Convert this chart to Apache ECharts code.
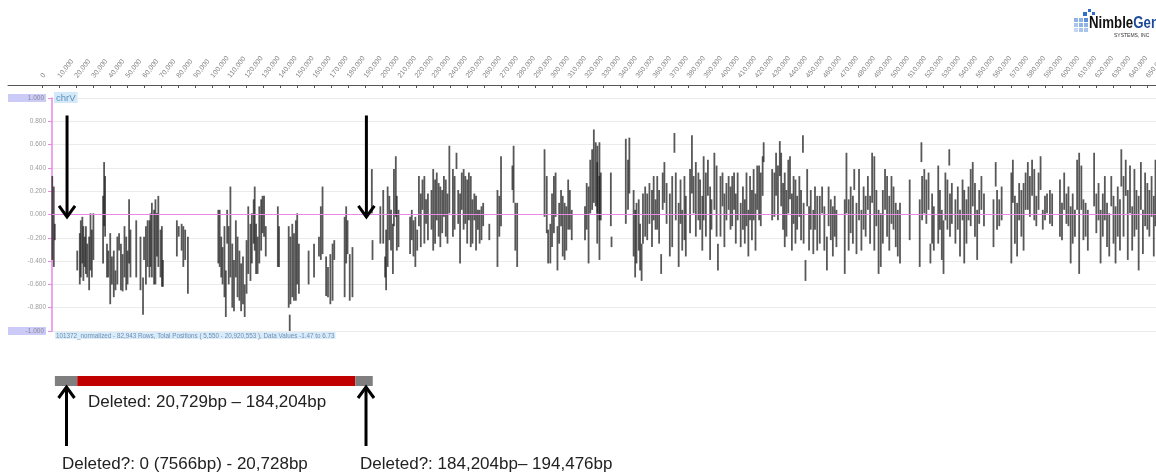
<!DOCTYPE html>
<html>
<head>
<meta charset="utf-8">
<script src="https://cdn.jsdelivr.net/npm/echarts@6/dist/echarts.min.js"></script>
<style>html,body{margin:0;padding:0;background:#fff}#c{width:1156px;height:475px}</style>
</head>
<body>
<div id="c"></div>
<script>
// ---- data (positions in kb, values: [pos_kb, high, low]) ----
const probesLeft = [
[5.7,0.33,-0.39],[6.6,0.24,-0.45],[7.2,-0.08,-0.22],
[20.4,-0.31,-0.48],[21.9,-0.16,-0.60],[22.5,-0.05,-0.54],[23.4,-0.02,-0.42],[24.0,-0.10,-0.57],[24.8,-0.19,-0.45],
[25.5,-0.10,-0.51],[26.3,-0.25,-0.54],[27.4,-0.19,-0.65],[28.2,0.01,-0.48],[29.0,-0.13,-0.54],[29.9,0.01,-0.39],
[35.6,0.16,-0.42],[36.2,0.45,-0.10],[36.8,0.33,-0.19],[37.9,-0.25,-0.54],[38.7,-0.31,-0.54],[39.8,-0.16,-0.77],
[40.8,-0.36,-0.60],[41.9,-0.31,-0.71],[42.9,-0.48,-0.65],[44.0,-0.19,-0.60],[45.0,-0.16,-0.31],[46.1,-0.25,-0.65],
[47.1,-0.34,-0.66],[48.2,-0.10,-0.54],[49.2,-0.19,-0.65],[50.0,-0.31,-0.60],[50.9,0.13,-0.42],[51.7,-0.13,-0.54],
[55.1,-0.05,-0.54],[57.6,-0.19,-0.65],[59.1,-0.54,-0.86],[59.7,-0.19,-0.39],[60.8,-0.10,-0.60],[61.8,-0.05,-0.45],
[62.9,-0.05,-0.54],[63.5,0.01,-0.45],[64.3,0.10,-0.54],[65.6,0.04,-0.60],[66.4,0.13,-0.60],[67.3,0.01,-0.36],
[68.1,0.16,-0.45],[69.4,-0.13,-0.54],[70.2,-0.10,-0.62],[70.8,-0.39,-0.62],
[79.0,-0.05,-0.36],[80.1,-0.10,-0.19],[81.8,-0.08,-0.31],[82.8,-0.10,-0.45],[83.9,-0.13,-0.39],[85.5,-0.19,-0.68],
[103.4,0.04,-0.42],[104.2,0.04,-0.45],[105.1,-0.19,-0.54],[105.9,-0.28,-0.60],[107.0,-0.10,-0.71],[107.8,-0.48,-0.88],
[108.6,0.04,-0.25],[109.5,-0.10,-0.60],[110.5,0.24,-0.54],[111.6,-0.25,-0.80],[112.6,-0.39,-0.83],[113.7,-0.05,-0.54],
[114.7,-0.19,-0.71],[115.8,-0.31,-0.74],[116.8,-0.42,-0.83],[117.9,-0.36,-0.77],[118.9,-0.60,-0.88],[120.0,-0.22,-0.68],
[121.0,0.07,-0.51],[122.3,-0.08,-0.57],[123.1,0.01,-0.42],[124.2,0.13,-0.25],[124.8,0.24,-0.31],[125.6,-0.08,-0.51],
[126.5,-0.19,-0.51],[127.5,0.07,-0.42],[128.6,0.13,-0.31],[129.4,0.16,-0.16],[130.3,0.16,-0.19],[131.3,-0.10,-0.36],
[138.4,0.07,-0.45],[139.1,-0.10,-0.45],
[144.8,-0.10,-0.80],[145.4,-0.86,-1.00],[145.8,-0.19,-0.77],[146.9,-0.08,-0.71],[147.9,-0.16,-0.74],[149.0,-0.05,-0.74],
[149.8,0.01,-0.60],[150.8,-0.25,-0.68],[156.5,-0.31,-0.60],[159.7,-0.25,-0.54],[162.6,-0.19,-0.36],[163.7,0.07,-0.39],
[164.7,0.24,-0.34],[166.8,-0.36,-0.70],[167.9,-0.45,-0.71],[169.3,-0.34,-0.77],[170.6,-0.25,-0.74],[171.6,-0.22,-0.39],
[177.7,-0.02,-0.71],[178.6,0.07,-0.42],[179.4,-0.05,-0.34],[180.7,-0.34,-0.74],[182.3,-0.28,-0.71]
];
const probesMid = [
[193.7,0.39,0.01],[194.1,-0.22,-0.39],
[198.7,0.07,-0.25],[200.4,0.21,-0.25],[201.5,-0.36,-0.54],[202.1,-0.13,-0.65],[203.0,0.24,-0.45],[204.0,0.16,-0.22],
[205.0,0.04,-0.31],[206.1,-0.08,-0.51],[206.7,0.39,-0.10],[207.8,0.50,-0.02],[208.4,0.16,-0.31],[209.4,0.04,-0.28],
[216.2,-0.02,-0.34],[217.2,0.04,-0.22],[218.2,-0.05,-0.36],[219.3,-0.02,-0.45],[220.4,-0.13,-0.31],[221.4,0.33,-0.10],
[222.5,0.18,-0.28],[223.5,0.30,0.04],[224.6,0.33,-0.25],[225.6,0.13,-0.08],[226.7,0.18,-0.22],[228.8,0.21,-0.13],
[229.8,0.39,-0.31],[230.9,0.30,-0.25],[231.9,0.36,-0.05],[233.0,0.27,-0.19],[234.0,0.24,-0.28],[235.1,0.21,-0.16],
[236.1,0.33,-0.02],[237.2,0.30,-0.19],[238.2,0.18,-0.25],[239.3,0.59,0.01],[241.4,0.39,-0.19],[242.4,0.33,-0.13],
[243.5,0.53,0.39],[244.5,0.21,-0.08],[245.6,0.18,-0.42],[246.6,0.36,0.04],[247.7,0.39,-0.13],[248.7,0.33,-0.08],
[249.8,0.30,-0.25],[250.8,0.36,-0.05],[251.9,0.33,-0.28],[252.9,0.13,-0.25],[254.0,0.18,-0.05],[255.0,0.16,-0.31],
[256.1,0.04,-0.13],[257.1,0.04,-0.25],[258.2,0.07,-0.22],[259.2,0.10,-0.10],[262.8,-0.08,-0.22],
[267.6,0.21,-0.45],[268.7,0.16,-0.19],[269.7,0.50,-0.10],[276.4,0.42,0.21],[277.1,0.59,0.10],[278.1,0.10,-0.31],[279.2,0.10,-0.45],
[295.3,0.56,-0.02],[296.6,0.33,-0.16],[297.4,-0.13,-0.42],[298.7,-0.08,-0.42],[299.7,0.18,-0.28],[300.8,0.33,-0.16],
[301.8,0.36,-0.02],[302.9,-0.10,-0.48],[303.9,0.10,-0.25],[305.0,0.21,-0.10],[306.0,0.16,-0.36],[307.1,0.10,-0.39],
[308.1,0.07,-0.31],[309.2,0.30,-0.13],[310.2,0.21,-0.13],[311.3,0.04,-0.22],
[319.1,0.07,-0.22],[320.1,0.27,-0.13],[321.2,0.24,-0.42],[322.2,0.47,0.01],[323.3,0.56,0.04],[324.3,0.73,0.10],
[325.4,0.62,0.07],[326.3,0.45,-0.25],[326.4,0.59,0.01],[327.5,0.33,-0.05],[327.6,0.62,-0.39],[328.4,0.36,-0.05],
[334.3,0.36,-0.10],[334.7,-0.19,-0.28],[343.1,0.65,-0.08],[344.4,0.47,0.04],[345.2,0.66,0.18],
[347.7,0.21,-0.36],[348.6,0.04,-0.54],[349.4,0.10,-0.42],[350.7,0.13,-0.31],[351.5,-0.08,-0.48],[352.4,-0.25,-0.57],
[353.2,0.18,-0.25],[354.5,0.24,-0.19],[355.7,0.18,-0.22],[357.0,0.27,-0.08],[358.5,0.21,-0.28],[359.5,0.33,-0.05],
[360.6,0.13,-0.13],[361.6,0.33,-0.13],[362.7,0.21,-0.25],[363.9,-0.34,-0.51],[364.8,0.36,0.04],[365.8,0.45,0.10],
[367.1,0.27,-0.08],[369.0,0.18,-0.36],[370.4,0.33,-0.28],[371.7,0.70,0.53],[372.5,0.36,-0.05],[374.2,0.10,-0.45],
[375.3,0.30,-0.08],[376.3,0.04,-0.31],[377.6,0.33,-0.22],[378.4,0.16,-0.36],[380.9,0.39,-0.16],[382.0,0.68,0.18],
[383.0,0.33,0.01],[384.3,0.45,-0.19],[385.8,0.36,-0.05],[386.8,0.30,-0.13],[388.1,0.16,-0.31],[388.9,0.50,-0.05],
[390.2,0.36,-0.19],[391.4,0.47,0.16],[392.7,0.24,-0.39],[393.5,0.13,-0.13],[395.2,0.53,0.04],[396.5,0.42,-0.19],
[397.3,-0.25,-0.48],[398.8,0.33,-0.19],[400.0,0.36,0.07],[401.1,0.18,-0.28],[402.3,0.27,-0.05],[403.6,0.33,0.04],
[404.7,0.24,-0.13],[405.7,0.33,-0.10],[406.8,0.36,0.04],[407.8,0.18,-0.25],[408.9,0.36,-0.05],[410.7,0.10,-0.28],
[412.0,0.24,-0.13],[413.1,0.13,-0.25],[414.1,0.36,-0.10],[415.2,0.04,-0.36],[416.2,0.33,-0.05],[417.3,0.21,-0.22],
[418.3,0.39,-0.05],[419.4,0.18,-0.31],[420.4,0.42,0.04],[421.5,0.42,-0.05],[422.5,0.36,-0.10],[423.6,0.50,0.16],
[424.2,0.62,0.45],[429.2,0.39,-0.05],[430.5,0.36,-0.02],[431.5,0.53,0.16],[432.6,0.42,-0.05],[433.7,0.63,0.33],
[434.5,0.53,0.07],[435.6,0.27,-0.13],[436.6,0.36,-0.28],[437.6,0.21,-0.19],[438.7,0.47,0.01],[439.7,0.50,0.13],
[440.8,0.18,-0.31],[441.8,0.33,-0.08],[442.9,0.30,-0.25],[443.9,0.16,-0.13],[445.2,0.33,-0.02],[446.2,0.21,-0.22],
[447.3,0.68,0.53],[447.7,0.10,-0.25],[448.8,-0.39,-0.57],[449.8,0.39,0.07],[450.9,0.07,-0.31],[451.9,0.21,-0.13]
];
const probesRight = [
[453.4,0.04,-0.34],[454.4,0.24,-0.13],[455.7,0.16,-0.31],[457.2,0.16,-0.25],[458.6,0.24,0.01],[459.9,0.07,-0.31],
[461.4,-0.19,-0.48],[462.4,0.24,-0.10],[463.7,0.13,-0.22],[464.9,0.07,-0.36],[466.0,0.16,-0.19],[467.0,0.04,-0.28],
[471.9,0.13,-0.51],[472.9,0.53,0.01],[474.2,0.13,-0.31],[475.4,0.24,-0.16],[476.7,0.16,-0.25],[477.5,0.39,0.21],
[478.8,0.10,-0.34],[480.3,0.39,-0.05],[481.7,0.04,-0.31],[483.0,0.24,-0.13],[484.2,0.16,-0.19],[485.5,0.33,0.04],
[486.8,0.16,-0.25],[488.0,0.53,0.10],[489.3,0.50,-0.31],[490.5,0.21,-0.10],[491.8,0.04,-0.51],[493.1,0.01,-0.45],
[494.3,0.21,-0.25],[495.6,0.39,0.04],[496.8,0.33,-0.19],[498.1,0.16,-0.31],[499.4,0.33,-0.08],[500.6,0.24,-0.13],
[501.9,0.10,-0.28],[503.1,0.04,-0.36],[504.4,0.10,-0.42],[510.1,0.30,-0.22],
[516.0,0.13,-0.45],[517.0,0.62,0.45],[517.4,0.33,-0.05],[518.7,0.39,0.01],[519.9,0.30,-0.08],[521.2,0.36,0.04],
[522.3,-0.25,-0.42],[523.3,0.18,-0.25],[524.3,0.07,-0.31],[526.9,0.42,-0.25],[527.9,0.21,-0.13],[529.0,0.04,-0.39],
[530.0,-0.05,-0.51],[531.1,0.36,-0.05],[532.3,0.30,-0.13],[533.4,0.56,0.42],[533.8,0.18,-0.19],[534.9,0.27,-0.08],
[537.0,0.13,-0.25],[538.4,0.24,-0.13],[539.7,0.04,-0.36],[541.2,0.30,-0.05],[542.2,0.21,-0.42],[543.5,0.13,-0.25],
[544.7,0.24,-0.05],[546.0,0.39,-0.10],[547.2,0.45,0.07],[548.5,0.27,-0.19],[549.8,0.04,-0.39],[551.0,0.21,-0.08],
[552.3,0.33,0.04],[553.8,0.18,-0.10],[559.4,0.13,-0.28],[560.7,0.45,0.24],[561.5,0.21,-0.13],[562.8,0.13,-0.10],
[564.2,0.24,-0.05],[569.9,0.36,-0.42],[570.8,0.47,0.10],[572.0,0.16,-0.25],[573.3,0.10,-0.36],[574.5,0.27,-0.05],
[575.8,0.21,-0.19],[577.1,0.27,-0.31],[578.3,0.36,0.04],[579.6,0.45,0.04],[580.8,0.33,-0.02],[582.1,0.47,0.16],
[583.4,0.39,-0.05],[584.6,0.16,-0.10],[585.9,0.36,0.04],[587.1,0.50,0.21],[588.4,0.04,-0.13],[589.7,0.16,-0.05],
[590.9,0.18,0.01],[592.6,0.21,-0.08],[593.9,0.18,-0.10],[598.5,0.30,-0.19],[599.7,0.10,-0.22],[601.0,0.36,0.04],
[602.3,0.18,-0.08],[603.5,0.24,-0.10],[604.8,0.07,-0.42],[606.0,0.18,-0.25],[607.3,0.04,-0.19],[608.6,0.47,0.04],
[609.8,0.53,-0.51],[611.1,0.42,0.04],[612.3,0.13,-0.22],[613.6,0.10,-0.19],[614.9,0.04,-0.31],[618.6,0.53,0.07],
[619.9,0.18,-0.16],[621.2,0.27,-0.05],[622.4,0.04,-0.42],[623.7,0.18,-0.19],[624.9,0.33,-0.05],[626.2,0.10,-0.28],
[627.5,0.01,-0.36],[628.7,0.33,0.07],[630.0,0.16,-0.25],[631.2,0.07,-0.42],[632.5,0.24,-0.19],[633.8,0.13,-0.31],
[634.6,0.56,0.24],[635.9,0.33,-0.19],[637.2,0.47,0.16],[638.4,0.21,-0.39],[639.7,0.42,0.01],[641.0,0.07,-0.31],
[642.3,0.39,-0.19],[643.5,0.21,-0.13],[644.8,0.16,-0.48],[646.1,0.45,0.04],[647.3,0.04,-0.34],[648.6,0.36,-0.10],
[649.9,0.27,-0.13],[651.1,0.21,-0.19],[652.4,0.33,-0.02],[653.7,0.16,-0.36],[654.7,0.47,-0.10]
];
// top axis tick labels (bp)
const topTickValues = [];
for (let v = 0; v <= 650000; v += 10000) topTickValues.push(v);
// y axis
const yMin = -1, yMax = 1, yStep = 0.2;
// arrows pointing to breakpoints (bp, value from, value to)
const topArrows = [[14400, 0.85, -0.02], [190500, 0.85, -0.02]];
// deletion bar segments: [start bp, end bp, kind]
const deletionSegments = [[7566, 20728, 'maybe'], [20729, 184204, 'deleted'], [184204, 194476, 'maybe']];
const bottomArrows = [[14400, 7.0, 1.1], [190500, 7.0, 1.1]];
const notes = [
  [27000, 2.6, 'Deleted: 20,729bp \u2013 184,204bp'],
  [11800, 8.8, 'Deleted?: 0 (7566bp) - 20,728bp'],
  [187000, 8.8, 'Deleted?: 184,204bp\u2013 194,476bp']
];
const chromLabel = 'chrV';
const footerText = '101372_normalized - 82,943 Rows, Total Positions ( 5,550 - 20,920,553 ), Data Values -1.47 to 6.73';

// ---- chart ----
const probeData = probesLeft.concat(probesMid, probesRight).map(p => [p[0] * 1000, p[2], p[1]]);
const chart = echarts.init(document.getElementById('c'), null, {renderer: 'canvas'});
const MAGENTA = '#e68ae6';

function arrowItem(params, api) {
  const a = api.coord([api.value(0), api.value(1)]);
  const b = api.coord([api.value(0), api.value(2)]);
  const dir = b[1] > a[1] ? 1 : -1;
  return {
    type: 'group',
    children: [
      {type: 'line', shape: {x1: a[0], y1: a[1], x2: b[0], y2: b[1]}, style: {stroke: '#000', lineWidth: 3}},
      {type: 'polyline', shape: {points: [[b[0] - 8, b[1] - dir * 11], [b[0], b[1]], [b[0] + 8, b[1] - dir * 11]]},
       style: {stroke: '#000', lineWidth: 3, fill: null}}
    ]
  };
}

const option = {
  animation: false,
  backgroundColor: '#ffffff',
  title: [
    {text: chromLabel, left: 54, top: 92, padding: [1, 2, 0, 2], backgroundColor: '#d3e9f8',
     textStyle: {fontSize: 9.5, fontWeight: 'normal', color: '#5d8fbf', fontFamily: 'Liberation Sans'}},
    {text: footerText, left: 55, top: 332, padding: [1, 1, 0, 1], backgroundColor: '#daecf9',
     textStyle: {fontSize: 6.3, fontWeight: 'normal', color: '#6b8fb5', fontFamily: 'Liberation Sans'}}
  ],
  grid: [
    {left: 8, right: 0, top: 84, height: 1, outerBoundsMode: 'none', containLabel: false},
    {left: 52, right: 0, top: 98, height: 233, outerBoundsMode: 'none', containLabel: false},
    {left: 8, right: 0, top: 376, height: 99, outerBoundsMode: 'none', containLabel: false}
  ],
  xAxis: [
    {gridIndex: 0, type: 'value', position: 'top', min: -20000, max: 655000, interval: 10000,
     axisLine: {lineStyle: {color: '#555', width: 1}},
     axisTick: {customValues: topTickValues, inside: true, length: 3, lineStyle: {color: '#555'}},
     axisLabel: {customValues: topTickValues, rotate: 52, fontSize: 7, color: '#808080', margin: 7,
                 fontFamily: 'Liberation Sans', formatter: v => v.toLocaleString('en-US')},
     splitLine: {show: false}},
    {gridIndex: 1, type: 'value', min: 5550, max: 655000, show: false},
    {gridIndex: 2, type: 'value', min: -20000, max: 655000, show: false}
  ],
  yAxis: [
    {gridIndex: 0, type: 'value', show: false},
    {gridIndex: 1, type: 'value', min: yMin, max: yMax, interval: yStep,
     axisLine: {show: true, lineStyle: {color: MAGENTA, width: 1.5}},
     axisTick: {show: true, length: 4, lineStyle: {color: MAGENTA}},
     axisLabel: {fontSize: 6.5, color: '#9a9a9a', margin: 6, fontFamily: 'Liberation Sans',
       formatter: v => {
         const s = (Math.abs(v) < 1e-9 ? 0 : v).toFixed(3);
         return Math.abs(Math.abs(v) - 1) < 1e-9 ? '{hl|' + s + '}' : s;
       },
       rich: {hl: {backgroundColor: '#cccaf6', width: 36, align: 'right', color: '#8a8a9a', fontSize: 6.5,
                   padding: [1, 2, 0, 0], fontFamily: 'Liberation Sans'}}},
     splitLine: {show: true, lineStyle: {color: '#ebebeb', width: 1}}},
    {gridIndex: 2, type: 'value', min: 0, max: 9.9, inverse: true, show: false}
  ],
  series: [
    {
      type: 'custom', name: 'probes', xAxisIndex: 1, yAxisIndex: 1,
      data: probeData,
      encode: {x: 0, y: [1, 2]},
      renderItem: (params, api) => {
        const lo = api.coord([api.value(0), api.value(1)]);
        const hi = api.coord([api.value(0), api.value(2)]);
        return {type: 'line', shape: {x1: lo[0], y1: lo[1], x2: hi[0], y2: hi[1]},
                style: {stroke: '#1e1e1e', lineWidth: 1.8, opacity: 0.74}};
      },
      markLine: {silent: true, symbol: 'none', label: {show: false},
                 lineStyle: {color: MAGENTA, type: 'solid', width: 1}, data: [{yAxis: 0}]},
      z: 3
    },
    {
      type: 'custom', name: 'breakpoints', xAxisIndex: 1, yAxisIndex: 1,
      data: topArrows, renderItem: arrowItem, z: 5
    },
    {
      type: 'custom', name: 'deletion', xAxisIndex: 2, yAxisIndex: 2,
      data: deletionSegments.map(d => [d[0], d[1]]),
      renderItem: (params, api) => {
        const s = api.coord([api.value(0), 0]);
        const e = api.coord([api.value(1), 1]);
        const kind = deletionSegments[params.dataIndex][2];
        return {type: 'rect', shape: {x: s[0], y: s[1], width: e[0] - s[0], height: e[1] - s[1]},
                style: {fill: kind === 'deleted' ? '#c00000' : '#7f7f7f'}};
      }
    },
    {
      type: 'custom', name: 'bottomArrows', xAxisIndex: 2, yAxisIndex: 2,
      data: bottomArrows, renderItem: arrowItem
    },
    {
      type: 'custom', name: 'notes', xAxisIndex: 2, yAxisIndex: 2,
      data: notes.map(n => [n[0], n[1]]),
      renderItem: (params, api) => {
        const p = api.coord([api.value(0), api.value(1)]);
        return {type: 'text', x: p[0], y: p[1],
                style: {text: notes[params.dataIndex][2], fill: '#222', font: '17px "Liberation Sans"',
                        textAlign: 'left', textVerticalAlign: 'middle'}};
      }
    }
  ],
  graphic: [
    {type: 'group', left: 1074, top: 9, children: [
      {type: 'rect', shape: {x: 0, y: 9, width: 4, height: 4}, style: {fill: '#8fb4e3'}},
      {type: 'rect', shape: {x: 5, y: 9, width: 4, height: 4}, style: {fill: '#8fb4e3'}},
      {type: 'rect', shape: {x: 10, y: 9, width: 4, height: 4}, style: {fill: '#5a8fd6'}},
      {type: 'rect', shape: {x: 0, y: 14, width: 4, height: 4}, style: {fill: '#a9c6ea'}},
      {type: 'rect', shape: {x: 5, y: 14, width: 4, height: 4}, style: {fill: '#8fb4e3'}},
      {type: 'rect', shape: {x: 10, y: 14, width: 4, height: 4}, style: {fill: '#8fb4e3'}},
      {type: 'rect', shape: {x: 0, y: 19, width: 4, height: 4}, style: {fill: '#c3d7f0'}},
      {type: 'rect', shape: {x: 5, y: 19, width: 4, height: 4}, style: {fill: '#a9c6ea'}},
      {type: 'rect', shape: {x: 10, y: 19, width: 4, height: 4}, style: {fill: '#a9c6ea'}},
      {type: 'rect', shape: {x: 9, y: 3, width: 4, height: 4}, style: {fill: '#2f6fc9'}},
      {type: 'rect', shape: {x: 14, y: 0, width: 3, height: 3}, style: {fill: '#2f6fc9'}},
      {type: 'rect', shape: {x: 18, y: 3, width: 3, height: 3}, style: {fill: '#2f6fc9'}}
    ]},
    {type: 'text', x: 1089, y: 15, scaleX: 0.78,
     style: {text: '{a|Nimble}{b|Gen}', rich: {
       a: {font: 'bold 17px "Liberation Sans"', fill: '#111'},
       b: {font: 'bold 17px "Liberation Sans"', fill: '#1d4a99'}}}},
    {type: 'text', x: 1114, y: 33,
     style: {text: 'SYSTEMS, INC', font: '5px "Liberation Sans"', fill: '#333'}}
  ]
};
chart.setOption(option);
</script>
</body>
</html>
